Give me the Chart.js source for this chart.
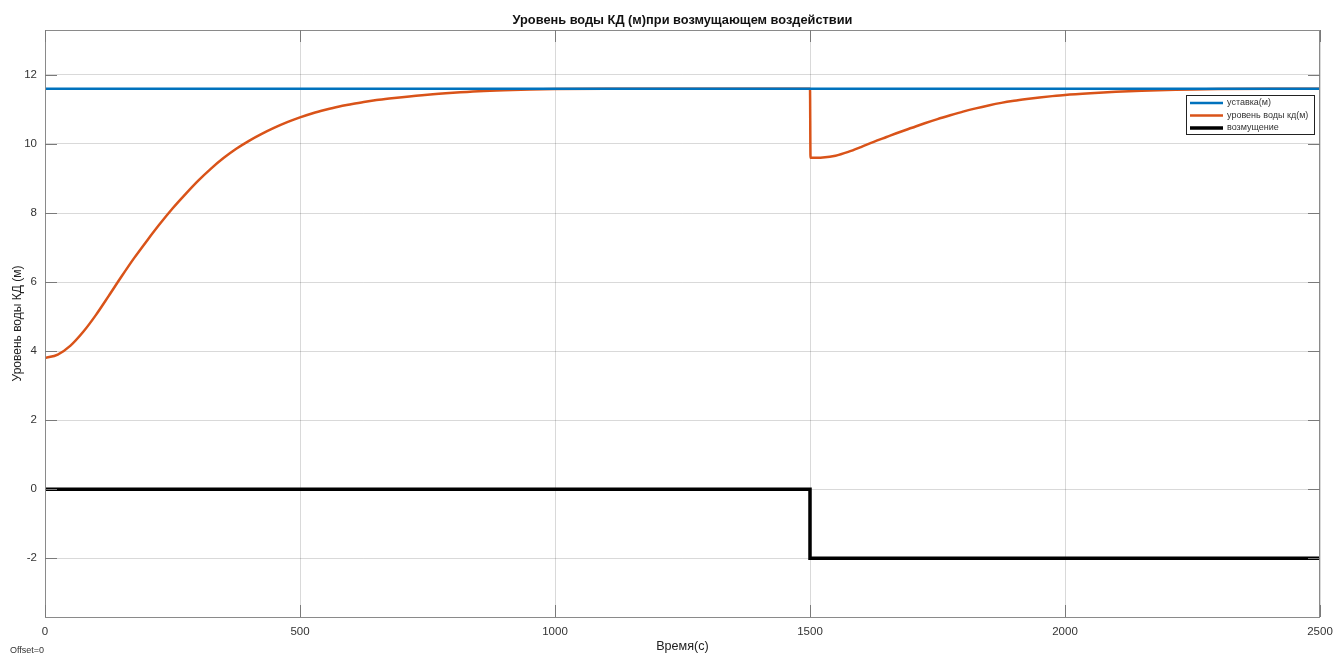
<!DOCTYPE html>
<html>
<head>
<meta charset="utf-8">
<script src="https://cdn.jsdelivr.net/npm/chart.js@4.4.1/dist/chart.umd.min.js"></script>
<style>
  html, body { margin: 0; padding: 0; background: #fff; }
  #wrap { position: relative; width: 1333px; height: 655px; }
</style>
</head>
<body>
<div id="wrap"><canvas id="chart"></canvas></div>
<script>
// --- данные ---
const chartTitle = 'Уровень воды КД (м)при возмущающем воздействии';
const seriesNames = ['уставка(м)', 'уровень воды кд(м)', 'возмущение'];

const setTime = [0, 2500];
const setLevel = [11.6, 11.6];

const levelTime = [0, 25, 50, 75, 100, 125, 150, 175, 200, 225, 250, 275, 300, 325, 350, 375, 400,
  425, 450, 475, 500, 525, 550, 575, 600, 625, 650, 675, 700, 750, 800, 850, 900, 950, 1000, 1100, 1200, 1500,
  1501, 1525, 1550, 1575, 1600, 1625, 1650, 1675, 1700, 1725, 1750, 1775, 1800, 1825, 1850, 1875, 1900,
  1925, 1950, 1975, 2000, 2050, 2100, 2150, 2200, 2250, 2300, 2400, 2500];
const levelValue = [3.80, 3.90, 4.16, 4.56, 5.05, 5.60, 6.16, 6.70, 7.20, 7.68, 8.13, 8.54, 8.93, 9.28, 9.59, 9.86, 10.09,
  10.29, 10.47, 10.63, 10.77, 10.89, 10.99, 11.08, 11.15, 11.215, 11.27, 11.315, 11.355, 11.425, 11.48, 11.525, 11.555, 11.575, 11.59, 11.60, 11.60, 11.60,
  9.60, 9.61, 9.66, 9.77, 9.91, 10.06, 10.20, 10.34, 10.47, 10.60, 10.72, 10.83, 10.935, 11.03, 11.115, 11.19, 11.25,
  11.30, 11.345, 11.385, 11.42, 11.47, 11.51, 11.54, 11.56, 11.58, 11.59, 11.60, 11.60];

const distTime = [0, 1500, 1500, 2500];
const distValue = [0, 0, -2, -2];

const xTicks = [0, 500, 1000, 1500, 2000, 2500];
const yTicks = [-2, 0, 2, 4, 6, 8, 10, 12];

function toPoints(xs, ys) {
  return xs.map((x, i) => ({ x: x, y: ys[i] }));
}

const FONT = 'Liberation Sans, Arial, Helvetica, sans-serif';

// заголовок, рамка, внутренние засечки, легенда и подпись Offset
const boxPlugin = {
  id: 'boxPlugin',
  afterDraw(chart) {
    const c = chart.ctx;
    const a = chart.chartArea;
    const xs = chart.scales.x, ys = chart.scales.y;
    c.save();
    c.strokeStyle = '#8a8a8a';
    c.lineWidth = 1;
    c.strokeRect(a.left + 0.5, a.top + 0.5, a.right - a.left - 1, a.bottom - a.top);

    // засечки внутрь
    c.strokeStyle = '#7a7a7a';
    c.beginPath();
    xTicks.forEach(v => {
      const px = Math.round(xs.getPixelForValue(v)) + 0.5;
      c.moveTo(px, a.bottom); c.lineTo(px, a.bottom - 12);
      c.moveTo(px, a.top); c.lineTo(px, a.top + 12);
    });
    yTicks.forEach(v => {
      const py = Math.round(ys.getPixelForValue(v)) + 0.5;
      c.moveTo(a.left, py); c.lineTo(a.left + 12, py);
      c.moveTo(a.right, py); c.lineTo(a.right - 12, py);
    });
    c.stroke();

    // заголовок
    c.fillStyle = '#111';
    c.font = 'bold 12.8px ' + FONT;
    c.textAlign = 'center';
    c.textBaseline = 'middle';
    c.fillText(chartTitle, (a.left + a.right) / 2, 20);
    c.textAlign = 'left';

    // легенда
    const lx = 1186, ly = 95, lw = 128, lh = 39;
    c.fillStyle = '#fff';
    c.fillRect(lx, ly, lw, lh);
    c.strokeStyle = '#222';
    c.lineWidth = 1;
    c.strokeRect(lx + 0.5, ly + 0.5, lw, lh);
    c.font = '9px ' + FONT;
    chart.data.datasets.forEach((ds, i) => {
      const yy = ly + 8 + i * 12.5;
      c.strokeStyle = ds.borderColor;
      c.lineWidth = ds.borderWidth;
      c.beginPath();
      c.moveTo(lx + 4, yy); c.lineTo(lx + 37, yy);
      c.stroke();
      c.fillStyle = '#333';
      c.fillText(ds.label, lx + 41, yy);
    });

    c.font = '9px ' + FONT;
    c.fillStyle = '#333';
    c.textBaseline = 'alphabetic';
    c.fillText('Offset=0', 10, 653);
    c.restore();
  }
};

const ctx = document.getElementById('chart').getContext('2d');
new Chart(ctx, {
  type: 'scatter',
  data: {
    datasets: [
      {
        label: seriesNames[0],
        data: toPoints(setTime, setLevel),
        showLine: true, borderColor: '#0072BD', borderWidth: 2.5,
        pointRadius: 0, tension: 0
      },
      {
        label: seriesNames[1],
        data: toPoints(levelTime, levelValue),
        showLine: true, borderColor: '#D95319', borderWidth: 2.5,
        pointRadius: 0, cubicInterpolationMode: 'monotone'
      },
      {
        label: seriesNames[2],
        data: toPoints(distTime, distValue),
        showLine: true, borderColor: '#000000', borderWidth: 3.5,
        pointRadius: 0, tension: 0
      }
    ]
  },
  options: {
    responsive: true,
    maintainAspectRatio: false,
    animation: false,
    layout: { padding: { left: 0, right: 13, top: 30, bottom: 0 } },
    plugins: {
      legend: { display: false },
      tooltip: { enabled: false },
      title: { display: false }
    },
    scales: {
      x: {
        type: 'linear',
        min: 0, max: 2500,
        afterBuildTicks: (axis) => { axis.ticks = xTicks.map(v => ({ value: v })); },
        afterFit: (s) => { s.height = 38; s.paddingLeft = 0; s.paddingRight = 0; },
        grid: { color: 'rgba(0,0,0,0.15)', drawTicks: false },
        border: { display: false },
        ticks: {
          color: '#333', padding: 8, font: { family: FONT, size: 11.5 },
          callback: (v) => String(v)
        },
        title: {
          display: true, text: 'Время(с)', color: '#222',
          font: { family: FONT, size: 12.6 }, padding: { top: 0, bottom: 0.5 }
        }
      },
      y: {
        type: 'linear',
        min: -3.7, max: 13.3,
        afterBuildTicks: (axis) => { axis.ticks = yTicks.map(v => ({ value: v })); },
        afterFit: (s) => { s.width = 45; s.paddingTop = 0; s.paddingBottom = 0; },
        grid: { color: 'rgba(0,0,0,0.15)', drawTicks: false },
        border: { display: false },
        ticks: {
          color: '#333', padding: 8, font: { family: FONT, size: 11.5 },
          callback: (v) => String(v)
        },
        title: {
          display: true, text: 'Уровень воды КД (м)', color: '#222',
          font: { family: FONT, size: 12 }, padding: { top: 10, bottom: 0 }
        }
      }
    }
  },
  plugins: [boxPlugin]
});
</script>
</body>
</html>
